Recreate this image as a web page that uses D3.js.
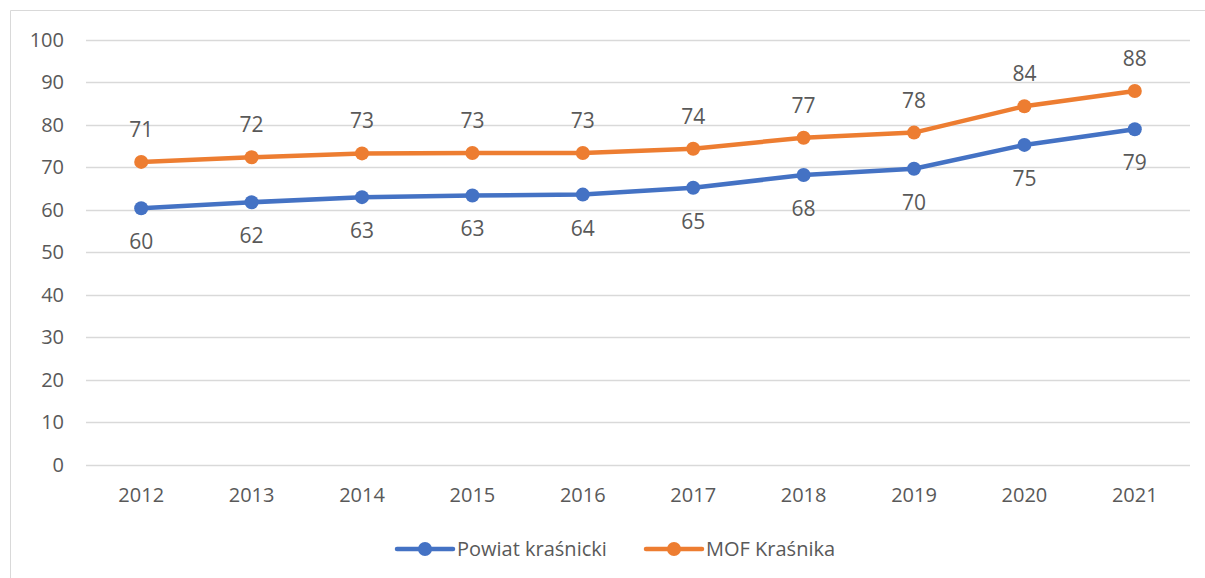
<!DOCTYPE html>
<html>
<head>
<meta charset="utf-8">
<script src="https://cdn.jsdelivr.net/npm/d3@7"></script>
<style>
  body { margin: 0; background: #fff; }
  text { font-family: "Open Sans", "Liberation Sans", sans-serif; fill: #595959; }
</style>
</head>
<body>
<svg id="viz"></svg>
<script>
// data
var years = ["2012", "2013", "2014", "2015", "2016", "2017", "2018", "2019", "2020", "2021"];
var powiat = [60.4, 61.8, 63.0, 63.4, 63.6, 65.2, 68.2, 69.7, 75.3, 79.0];
var mof = [71.3, 72.4, 73.3, 73.4, 73.4, 74.4, 77.0, 78.2, 84.4, 88.0];
var yTicks = [0, 10, 20, 30, 40, 50, 60, 70, 80, 90, 100];

var series = [
    {name: "Powiat kraśnicki", values: powiat, color: "#4472c4", labelDy: 41},
    {name: "MOF Kraśnika", values: mof, color: "#ed7d31", labelDy: -25}
];

var width = 1205, height = 578;
var svg = d3.select("#viz").attr("width", width).attr("height", height);

// chart border
svg.append("path")
    .attr("d", "M10.5," + height + "V10.5H" + width)
    .attr("fill", "none")
    .attr("stroke", "#d9d9d9")
    .attr("stroke-width", 1);

var x = d3.scaleBand().domain(years).range([86, 1190]);
var y = d3.scaleLinear().domain([0, 100]).range([464.7, 40]);

// gridlines
svg.append("g")
    .selectAll("line")
    .data(yTicks)
    .enter()
    .append("line")
    .attr("x1", 86).attr("x2", 1190)
    .attr("y1", function(d) { return Math.round(y(d)) + 0.5; })
    .attr("y2", function(d) { return Math.round(y(d)) + 0.5; })
    .attr("stroke", "#d9d9d9")
    .attr("stroke-width", 1.5);

// y axis labels
var yAxis = svg.append("g")
    .attr("transform", "translate(64,0)")
    .call(d3.axisLeft(y).tickValues(yTicks).tickSize(0).tickPadding(0));
yAxis.select(".domain").remove();
yAxis.selectAll("text").style("font-size", "20px").attr("fill", "#595959").attr("x", 0);

// x axis labels
var xAxis = svg.append("g")
    .attr("transform", "translate(0,488)")
    .call(d3.axisBottom(x).tickSize(0).tickPadding(0));
xAxis.select(".domain").remove();
xAxis.selectAll("text").style("font-size", "20px").attr("fill", "#595959");

var line = d3.line()
    .x(function(d, i) { return x(years[i]) + x.bandwidth() / 2; })
    .y(function(d) { return y(d); });

series.forEach(function(s) {
    var g = svg.append("g");
    g.append("path")
        .attr("d", line(s.values))
        .attr("fill", "none")
        .attr("stroke", s.color)
        .attr("stroke-width", 4.5)
        .attr("stroke-linejoin", "round");
    g.selectAll("circle")
        .data(s.values)
        .enter()
        .append("circle")
        .attr("cx", function(d, i) { return x(years[i]) + x.bandwidth() / 2; })
        .attr("cy", function(d) { return y(d); })
        .attr("r", 7)
        .attr("fill", s.color);
    g.selectAll("text")
        .data(s.values)
        .enter()
        .append("text")
        .attr("x", function(d, i) { return x(years[i]) + x.bandwidth() / 2; })
        .attr("y", function(d) { return y(d) + s.labelDy; })
        .attr("text-anchor", "middle")
        .style("font-size", "21px")
        .text(function(d) { return Math.round(d); });
});

// legend
var legendX = [397, 646];
series.forEach(function(s, i) {
    var lg = svg.append("g").attr("transform", "translate(" + legendX[i] + ",549)");
    lg.append("line")
        .attr("x1", 0).attr("x2", 56)
        .attr("stroke", s.color)
        .attr("stroke-width", 4.5)
        .attr("stroke-linecap", "round");
    lg.append("circle").attr("cx", 28).attr("r", 7).attr("fill", s.color);
    lg.append("text")
        .attr("x", 60).attr("y", 7)
        .style("font-size", "20px")
        .text(s.name);
});
</script>
</body>
</html>
